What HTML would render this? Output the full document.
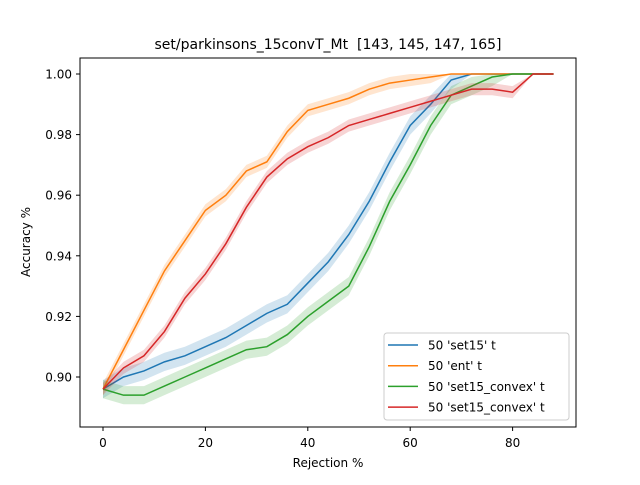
<!DOCTYPE html>
<html><head><meta charset="utf-8"><style>
body{margin:0;background:#fff}
text{font-family:"DejaVu Sans","Liberation Sans",sans-serif;fill:#000}
</style></head><body>
<svg id="chart" width="640" height="480" viewBox="0 0 640 480">
<rect width="640" height="480" fill="#fff"/>
<text x="328" y="49" font-size="14" text-anchor="middle">set/parkinsons_15convT_Mt&#160; [143, 145, 147, 165]</text>
<g id="series"></g>
<rect x="80" y="58" width="496" height="369" fill="none" stroke="#000" stroke-width="1"/>
<g id="xticks"></g>
<g id="yticks"></g>
<text x="328" y="467" font-size="12" text-anchor="middle">Rejection %</text>
<text transform="translate(30,242) rotate(-90)" font-size="12" text-anchor="middle">Accuracy %</text>
<g>
<rect x="384" y="333" width="185" height="87" rx="3" fill="#fff" fill-opacity="0.85" stroke="#ccc"/>
<g id="legend-items"></g>
</g>
</svg>
<script>
const xs=[0,4,8,12,16,20,24,28,32,36,40,44,48,52,56,60,64,68,72,76,80,84,88];
const setVals=[0.896,0.900,0.902,0.905,0.907,0.910,0.913,0.917,0.921,0.924,0.931,0.938,0.947,0.958,0.971,0.983,0.990,0.998,1.0,1.0,1.0,1.0,1.0];
const entVals=[0.896,0.909,0.922,0.935,0.945,0.955,0.960,0.968,0.971,0.981,0.988,0.990,0.992,0.995,0.997,0.998,0.999,1.0,1.0,1.0,1.0,1.0,1.0];
const convexVals=[0.896,0.894,0.894,0.897,0.900,0.903,0.906,0.909,0.910,0.914,0.920,0.925,0.930,0.943,0.958,0.970,0.983,0.993,0.996,0.999,1.0,1.0,1.0];
const convex2Vals=[0.896,0.903,0.907,0.915,0.926,0.934,0.944,0.956,0.966,0.972,0.976,0.979,0.983,0.985,0.987,0.989,0.991,0.993,0.995,0.995,0.994,1.0,1.0];
const xTicks=[0,20,40,60,80];
const yTicks=[0.90,0.92,0.94,0.96,0.98,1.00];
const labels=["50 'set15' t","50 'ent' t","50 'set15_convex' t","50 'set15_convex' t"];
const colors=["#1f77b4","#ff7f0e","#2ca02c","#d62728"];
const bands=[0.003,0.002,0.003,0.002];
const NS="http://www.w3.org/2000/svg";
const px=x=>103+5.12*x;
const py=v=>377-(v-0.9)*3030;
function mk(t,a,p){const e=document.createElementNS(NS,t);for(const k in a)e.setAttribute(k,a[k]);p.appendChild(e);return e;}
const S=document.getElementById('series');
const allSeries=[setVals,entVals,convexVals,convex2Vals];
allSeries.forEach((vals,i)=>{
  const up=xs.map((x,j)=>px(x)+','+py(Math.min(vals[j]+bands[i]*(vals[j]<1?1:0),1.0)));
  const dn=xs.map((x,j)=>px(x)+','+py(vals[j]-bands[i]*(vals[j]<1?1:0))).reverse();
  const b=mk('polygon',{points:up.concat(dn).join(' '),fill:colors[i],'fill-opacity':0.2},S);
  
  
  const l=mk('polyline',{points:xs.map((x,j)=>px(x)+','+py(vals[j])).join(' '),fill:'none',stroke:colors[i],'stroke-width':1.5},S);
  
  
});
const XT=document.getElementById('xticks');
xTicks.forEach(t=>{
  const g=mk('g',{},XT);
  
  
  mk('line',{x1:px(t),x2:px(t),y1:427,y2:431,stroke:'#000'},g);
  const tx=mk('text',{x:px(t),y:447,'font-size':12,'text-anchor':'middle'},g);tx.textContent=t;
});
const YT=document.getElementById('yticks');
yTicks.forEach(t=>{
  const g=mk('g',{},YT);
  
  
  mk('line',{x1:76,x2:80,y1:py(t),y2:py(t),stroke:'#000'},g);
  const tx=mk('text',{x:72,y:py(t)+4.5,'font-size':12,'text-anchor':'end'},g);tx.textContent=t.toFixed(2);
});
const L=document.getElementById('legend-items');
labels.forEach((s,i)=>{
  const y=345+i*20.7;
  const g=mk('g',{},L);
  
  
  mk('line',{x1:388,x2:418,y1:y,y2:y,stroke:colors[i],'stroke-width':1.5},g);
  const tx=mk('text',{x:428,y:y+4.5,'font-size':12},g);tx.textContent=s;
});
</script>
</body></html>
